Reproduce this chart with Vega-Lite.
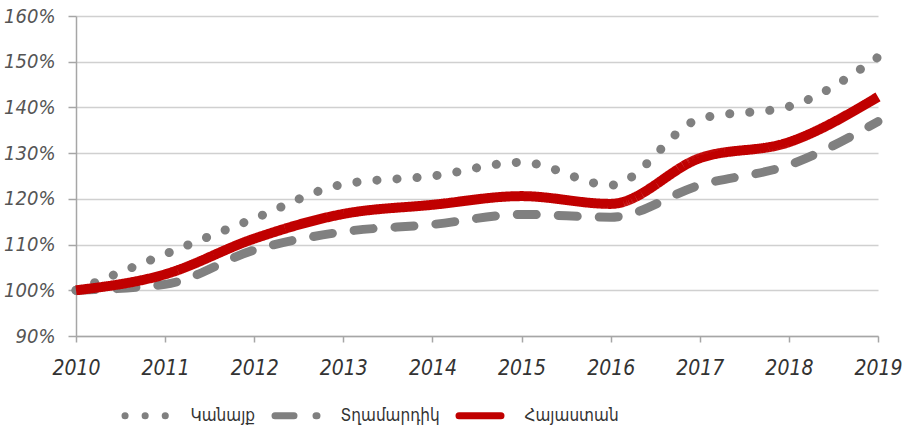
{
  "$schema": "https://vega.github.io/schema/vega-lite/v6.json",
  "autosize": "none",
  "width": 802,
  "height": 320,
  "padding": {"left": 76, "top": 16, "right": 30, "bottom": 101},
  "background": "white",
  "data": {
    "values": [
      {"year": 2010, "series": "Կանայք", "value": 100},
      {"year": 2011, "series": "Կանայք", "value": 107.9},
      {"year": 2012, "series": "Կանայք", "value": 115.7},
      {"year": 2013, "series": "Կանայք", "value": 123.2},
      {"year": 2014, "series": "Կանայք", "value": 125.0},
      {"year": 2015, "series": "Կանայք", "value": 128.0},
      {"year": 2016, "series": "Կանայք", "value": 123.0},
      {"year": 2017, "series": "Կանայք", "value": 137.5},
      {"year": 2018, "series": "Կանայք", "value": 140.2},
      {"year": 2019, "series": "Կանայք", "value": 151.0},
      {"year": 2010, "series": "Տղամարդիկ", "value": 100},
      {"year": 2011, "series": "Տղամարդիկ", "value": 101.3},
      {"year": 2012, "series": "Տղամարդիկ", "value": 108.8},
      {"year": 2013, "series": "Տղամարդիկ", "value": 112.8},
      {"year": 2014, "series": "Տղամարդիկ", "value": 114.4},
      {"year": 2015, "series": "Տղամարդիկ", "value": 116.6},
      {"year": 2016, "series": "Տղամարդիկ", "value": 116.0},
      {"year": 2017, "series": "Տղամարդիկ", "value": 123.0},
      {"year": 2018, "series": "Տղամարդիկ", "value": 127.4},
      {"year": 2019, "series": "Տղամարդիկ", "value": 136.9},
      {"year": 2010, "series": "Հայաստան", "value": 100},
      {"year": 2011, "series": "Հայաստան", "value": 103.5},
      {"year": 2012, "series": "Հայաստան", "value": 111.3},
      {"year": 2013, "series": "Հայաստան", "value": 116.7},
      {"year": 2014, "series": "Հայաստան", "value": 118.7},
      {"year": 2015, "series": "Հայաստան", "value": 120.6},
      {"year": 2016, "series": "Հայաստան", "value": 118.9},
      {"year": 2017, "series": "Հայաստան", "value": 128.9},
      {"year": 2018, "series": "Հայաստան", "value": 132.4},
      {"year": 2019, "series": "Հայաստան", "value": 142.3}
    ]
  },
  "encoding": {
    "x": {
      "field": "year",
      "type": "quantitative",
      "scale": {"domain": [2010, 2019], "nice": false, "zero": false},
      "axis": {
        "title": null,
        "values": [2010, 2011, 2012, 2013, 2014, 2015, 2016, 2017, 2018, 2019],
        "format": "d",
        "grid": false,
        "tickSize": 6,
        "labelPadding": 15,
        "labelFontSize": 21,
        "labelColor": "#333333",
        "labelFlush": false
      }
    },
    "y": {
      "field": "value",
      "type": "quantitative",
      "scale": {"domain": [90, 160], "nice": false, "zero": false},
      "axis": {
        "title": null,
        "values": [90, 100, 110, 120, 130, 140, 150, 160],
        "labelExpr": "datum.value + '%'",
        "grid": true,
        "tickSize": 8,
        "labelPadding": 13,
        "labelFontSize": 20,
        "labelColor": "#555555"
      }
    },
    "color": {
      "field": "series",
      "type": "nominal",
      "scale": {"domain": ["Կանայք", "Տղամարդիկ", "Հայաստան"], "range": ["#808080", "#808080", "#C00000"]},
      "legend": {
        "title": null,
        "orient": "none",
        "direction": "horizontal",
        "columns": 3,
        "gridAlign": "each",
        "legendX": 46,
        "legendY": 375,
        "symbolType": "stroke",
        "symbolSize": 1764,
        "symbolOffset": -0.5,
        "symbolStrokeWidth": 7,
        "labelOffset": 20,
        "columnPadding": 5,
        "labelFont": "DejaVu Sans Condensed, DejaVu Sans",
        "labelFontSize": 17,
        "labelColor": "#333333",
        "encode": {
          "symbols": {
            "update": {
              "strokeCap": {"value": "round"}
            }
          }
        }
      }
    },
    "strokeDash": {
      "field": "series",
      "type": "nominal",
      "scale": {"domain": ["Կանայք", "Տղամարդիկ", "Հայաստան"], "range": [[0.1, 20], [19, 22], [1, 0]]},
      "legend": null
    }
  },
  "layer": [
    {
      "transform": [{"filter": "datum.series === 'Կանայք'"}],
      "mark": {"type": "line", "interpolate": "monotone", "strokeWidth": 9, "strokeCap": "round"}
    },
    {
      "transform": [{"filter": "datum.series === 'Տղամարդիկ'"}],
      "mark": {"type": "line", "interpolate": "monotone", "strokeWidth": 9, "strokeCap": "round"}
    },
    {
      "transform": [{"filter": "datum.series === 'Հայաստան'"}],
      "mark": {"type": "line", "interpolate": "monotone", "strokeWidth": 10, "strokeCap": "butt"}
    }
  ],
  "config": {
    "view": {"stroke": null},
    "axis": {
      "labelFont": "Liberation Sans Narrow, DejaVu Sans Condensed, sans-serif",
      "labelFontStyle": "italic",
      "domainColor": "#a6a6a6",
      "tickColor": "#a6a6a6",
      "gridColor": "#d0d0d0",
      "domainWidth": 1.5,
      "tickWidth": 1.5,
      "gridWidth": 1.5
    }
  }
}
